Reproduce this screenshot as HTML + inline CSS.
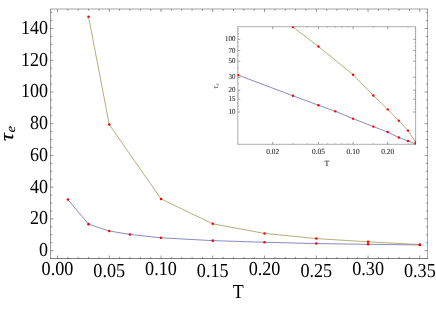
<!DOCTYPE html>
<html><head><meta charset="utf-8"><title>plot</title>
<style>
html,body{margin:0;padding:0;background:#fff;}
svg{display:block;will-change:transform;}
text{font-family:"Liberation Serif",serif;fill:#000;text-rendering:geometricPrecision;}
.big{font-size:18px;}
.sm{font-size:20px;fill:#111;stroke:#111;stroke-width:0.12px;}
</style></head><body>
<svg width="436" height="311" viewBox="0 0 436 311">
<rect width="436" height="311" fill="#fff"/>
<path d="M50.6 9.0V258.5" stroke="#000" stroke-width="1" stroke-opacity="0.42"/>
<path d="M50.1 9.0H428.1" stroke="#000" stroke-width="1" stroke-opacity="0.36"/>
<path d="M427.5 9.0V258.5" stroke="#000" stroke-width="1" stroke-opacity="0.33"/>
<path d="M50.1 258.5H428.1" stroke="#000" stroke-width="1" stroke-opacity="0.5"/>
<path d="M57.50 258.5v-3.0M57.50 9.0v3.0" stroke="#000" stroke-width="0.8" stroke-opacity="0.5"/>
<path d="M67.85 258.5v-1.7M67.85 9.0v1.7" stroke="#000" stroke-width="0.8" stroke-opacity="0.5"/>
<path d="M78.20 258.5v-1.7M78.20 9.0v1.7" stroke="#000" stroke-width="0.8" stroke-opacity="0.5"/>
<path d="M88.56 258.5v-1.7M88.56 9.0v1.7" stroke="#000" stroke-width="0.8" stroke-opacity="0.5"/>
<path d="M98.91 258.5v-1.7M98.91 9.0v1.7" stroke="#000" stroke-width="0.8" stroke-opacity="0.5"/>
<path d="M109.26 258.5v-3.0M109.26 9.0v3.0" stroke="#000" stroke-width="0.8" stroke-opacity="0.5"/>
<path d="M119.61 258.5v-1.7M119.61 9.0v1.7" stroke="#000" stroke-width="0.8" stroke-opacity="0.5"/>
<path d="M129.96 258.5v-1.7M129.96 9.0v1.7" stroke="#000" stroke-width="0.8" stroke-opacity="0.5"/>
<path d="M140.32 258.5v-1.7M140.32 9.0v1.7" stroke="#000" stroke-width="0.8" stroke-opacity="0.5"/>
<path d="M150.67 258.5v-1.7M150.67 9.0v1.7" stroke="#000" stroke-width="0.8" stroke-opacity="0.5"/>
<path d="M161.02 258.5v-3.0M161.02 9.0v3.0" stroke="#000" stroke-width="0.8" stroke-opacity="0.5"/>
<path d="M171.37 258.5v-1.7M171.37 9.0v1.7" stroke="#000" stroke-width="0.8" stroke-opacity="0.5"/>
<path d="M181.72 258.5v-1.7M181.72 9.0v1.7" stroke="#000" stroke-width="0.8" stroke-opacity="0.5"/>
<path d="M192.08 258.5v-1.7M192.08 9.0v1.7" stroke="#000" stroke-width="0.8" stroke-opacity="0.5"/>
<path d="M202.43 258.5v-1.7M202.43 9.0v1.7" stroke="#000" stroke-width="0.8" stroke-opacity="0.5"/>
<path d="M212.78 258.5v-3.0M212.78 9.0v3.0" stroke="#000" stroke-width="0.8" stroke-opacity="0.5"/>
<path d="M223.13 258.5v-1.7M223.13 9.0v1.7" stroke="#000" stroke-width="0.8" stroke-opacity="0.5"/>
<path d="M233.48 258.5v-1.7M233.48 9.0v1.7" stroke="#000" stroke-width="0.8" stroke-opacity="0.5"/>
<path d="M243.84 258.5v-1.7M243.84 9.0v1.7" stroke="#000" stroke-width="0.8" stroke-opacity="0.5"/>
<path d="M254.19 258.5v-1.7M254.19 9.0v1.7" stroke="#000" stroke-width="0.8" stroke-opacity="0.5"/>
<path d="M264.54 258.5v-3.0M264.54 9.0v3.0" stroke="#000" stroke-width="0.8" stroke-opacity="0.5"/>
<path d="M274.89 258.5v-1.7M274.89 9.0v1.7" stroke="#000" stroke-width="0.8" stroke-opacity="0.5"/>
<path d="M285.24 258.5v-1.7M285.24 9.0v1.7" stroke="#000" stroke-width="0.8" stroke-opacity="0.5"/>
<path d="M295.60 258.5v-1.7M295.60 9.0v1.7" stroke="#000" stroke-width="0.8" stroke-opacity="0.5"/>
<path d="M305.95 258.5v-1.7M305.95 9.0v1.7" stroke="#000" stroke-width="0.8" stroke-opacity="0.5"/>
<path d="M316.30 258.5v-3.0M316.30 9.0v3.0" stroke="#000" stroke-width="0.8" stroke-opacity="0.5"/>
<path d="M326.65 258.5v-1.7M326.65 9.0v1.7" stroke="#000" stroke-width="0.8" stroke-opacity="0.5"/>
<path d="M337.00 258.5v-1.7M337.00 9.0v1.7" stroke="#000" stroke-width="0.8" stroke-opacity="0.5"/>
<path d="M347.36 258.5v-1.7M347.36 9.0v1.7" stroke="#000" stroke-width="0.8" stroke-opacity="0.5"/>
<path d="M357.71 258.5v-1.7M357.71 9.0v1.7" stroke="#000" stroke-width="0.8" stroke-opacity="0.5"/>
<path d="M368.06 258.5v-3.0M368.06 9.0v3.0" stroke="#000" stroke-width="0.8" stroke-opacity="0.5"/>
<path d="M378.41 258.5v-1.7M378.41 9.0v1.7" stroke="#000" stroke-width="0.8" stroke-opacity="0.5"/>
<path d="M388.76 258.5v-1.7M388.76 9.0v1.7" stroke="#000" stroke-width="0.8" stroke-opacity="0.5"/>
<path d="M399.12 258.5v-1.7M399.12 9.0v1.7" stroke="#000" stroke-width="0.8" stroke-opacity="0.5"/>
<path d="M409.47 258.5v-1.7M409.47 9.0v1.7" stroke="#000" stroke-width="0.8" stroke-opacity="0.5"/>
<path d="M419.82 258.5v-3.0M419.82 9.0v3.0" stroke="#000" stroke-width="0.8" stroke-opacity="0.5"/>
<path d="M50.6 250.65h3.0M427.6 250.65h-3.0" stroke="#000" stroke-width="0.8" stroke-opacity="0.5"/>
<path d="M50.6 242.72h1.7M427.6 242.72h-1.7" stroke="#000" stroke-width="0.8" stroke-opacity="0.5"/>
<path d="M50.6 234.78h1.7M427.6 234.78h-1.7" stroke="#000" stroke-width="0.8" stroke-opacity="0.5"/>
<path d="M50.6 226.84h1.7M427.6 226.84h-1.7" stroke="#000" stroke-width="0.8" stroke-opacity="0.5"/>
<path d="M50.6 218.91h3.0M427.6 218.91h-3.0" stroke="#000" stroke-width="0.8" stroke-opacity="0.5"/>
<path d="M50.6 210.98h1.7M427.6 210.98h-1.7" stroke="#000" stroke-width="0.8" stroke-opacity="0.5"/>
<path d="M50.6 203.04h1.7M427.6 203.04h-1.7" stroke="#000" stroke-width="0.8" stroke-opacity="0.5"/>
<path d="M50.6 195.11h1.7M427.6 195.11h-1.7" stroke="#000" stroke-width="0.8" stroke-opacity="0.5"/>
<path d="M50.6 187.17h3.0M427.6 187.17h-3.0" stroke="#000" stroke-width="0.8" stroke-opacity="0.5"/>
<path d="M50.6 179.24h1.7M427.6 179.24h-1.7" stroke="#000" stroke-width="0.8" stroke-opacity="0.5"/>
<path d="M50.6 171.30h1.7M427.6 171.30h-1.7" stroke="#000" stroke-width="0.8" stroke-opacity="0.5"/>
<path d="M50.6 163.37h1.7M427.6 163.37h-1.7" stroke="#000" stroke-width="0.8" stroke-opacity="0.5"/>
<path d="M50.6 155.43h3.0M427.6 155.43h-3.0" stroke="#000" stroke-width="0.8" stroke-opacity="0.5"/>
<path d="M50.6 147.50h1.7M427.6 147.50h-1.7" stroke="#000" stroke-width="0.8" stroke-opacity="0.5"/>
<path d="M50.6 139.56h1.7M427.6 139.56h-1.7" stroke="#000" stroke-width="0.8" stroke-opacity="0.5"/>
<path d="M50.6 131.62h1.7M427.6 131.62h-1.7" stroke="#000" stroke-width="0.8" stroke-opacity="0.5"/>
<path d="M50.6 123.69h3.0M427.6 123.69h-3.0" stroke="#000" stroke-width="0.8" stroke-opacity="0.5"/>
<path d="M50.6 115.75h1.7M427.6 115.75h-1.7" stroke="#000" stroke-width="0.8" stroke-opacity="0.5"/>
<path d="M50.6 107.82h1.7M427.6 107.82h-1.7" stroke="#000" stroke-width="0.8" stroke-opacity="0.5"/>
<path d="M50.6 99.89h1.7M427.6 99.89h-1.7" stroke="#000" stroke-width="0.8" stroke-opacity="0.5"/>
<path d="M50.6 91.95h3.0M427.6 91.95h-3.0" stroke="#000" stroke-width="0.8" stroke-opacity="0.5"/>
<path d="M50.6 84.02h1.7M427.6 84.02h-1.7" stroke="#000" stroke-width="0.8" stroke-opacity="0.5"/>
<path d="M50.6 76.08h1.7M427.6 76.08h-1.7" stroke="#000" stroke-width="0.8" stroke-opacity="0.5"/>
<path d="M50.6 68.15h1.7M427.6 68.15h-1.7" stroke="#000" stroke-width="0.8" stroke-opacity="0.5"/>
<path d="M50.6 60.21h3.0M427.6 60.21h-3.0" stroke="#000" stroke-width="0.8" stroke-opacity="0.5"/>
<path d="M50.6 52.28h1.7M427.6 52.28h-1.7" stroke="#000" stroke-width="0.8" stroke-opacity="0.5"/>
<path d="M50.6 44.34h1.7M427.6 44.34h-1.7" stroke="#000" stroke-width="0.8" stroke-opacity="0.5"/>
<path d="M50.6 36.41h1.7M427.6 36.41h-1.7" stroke="#000" stroke-width="0.8" stroke-opacity="0.5"/>
<path d="M50.6 28.47h3.0M427.6 28.47h-3.0" stroke="#000" stroke-width="0.8" stroke-opacity="0.5"/>
<path d="M50.6 20.53h1.7M427.6 20.53h-1.7" stroke="#000" stroke-width="0.8" stroke-opacity="0.5"/>
<path d="M50.6 12.60h1.7M427.6 12.60h-1.7" stroke="#000" stroke-width="0.8" stroke-opacity="0.5"/>
<text transform="translate(57.50,274.7) scale(1.01,1.1)" text-anchor="middle" class="big">0.00</text>
<text transform="translate(109.26,276.6) scale(1.01,1.1)" text-anchor="middle" class="big">0.05</text>
<text transform="translate(161.02,274.7) scale(1.01,1.1)" text-anchor="middle" class="big">0.10</text>
<text transform="translate(212.78,276.6) scale(1.01,1.1)" text-anchor="middle" class="big">0.15</text>
<text transform="translate(264.54,274.7) scale(1.01,1.1)" text-anchor="middle" class="big">0.20</text>
<text transform="translate(316.30,276.6) scale(1.01,1.1)" text-anchor="middle" class="big">0.25</text>
<text transform="translate(368.06,274.7) scale(1.01,1.1)" text-anchor="middle" class="big">0.30</text>
<text transform="translate(419.82,276.6) scale(1.01,1.1)" text-anchor="middle" class="big">0.35</text>
<text transform="translate(48,256.05) scale(1,1.1)" text-anchor="end" class="big">0</text>
<text transform="translate(48,224.31) scale(1,1.1)" text-anchor="end" class="big">20</text>
<text transform="translate(48,192.57) scale(1,1.1)" text-anchor="end" class="big">40</text>
<text transform="translate(48,160.83) scale(1,1.1)" text-anchor="end" class="big">60</text>
<text transform="translate(48,129.09) scale(1,1.1)" text-anchor="end" class="big">80</text>
<text transform="translate(48,97.35) scale(1,1.1)" text-anchor="end" class="big">100</text>
<text transform="translate(48,65.61) scale(1,1.1)" text-anchor="end" class="big">120</text>
<text transform="translate(48,33.87) scale(1,1.1)" text-anchor="end" class="big">140</text>
<text transform="translate(238.3,297.6) scale(1,1.1)" text-anchor="middle" class="big">T</text>
<text transform="translate(13.3,141.0) rotate(-90) scale(1.12,1)" class="big" style="font-style:italic;font-size:19.5px;stroke:#000;stroke-width:0.2px">τ<tspan dy="1.6" dx="0.6" style="font-size:13px;stroke-width:0.1px">e</tspan></text>
<polyline points="67.85,199.55 88.56,224.15 109.26,230.97 129.96,234.46 161.02,237.80 212.78,240.65 264.54,242.24 316.30,243.59 368.06,244.30 419.82,244.94" fill="none" stroke="#3d3d99" stroke-width="0.6"/>
<polyline points="88.56,16.73 109.26,124.48 161.02,198.91 212.78,223.83 264.54,233.43 316.30,238.59 368.06,241.84 419.82,244.54" fill="none" stroke="#998b3d" stroke-width="0.7"/>
<circle cx="67.85" cy="199.55" r="1.28" fill="#ff0000"/>
<circle cx="88.56" cy="224.15" r="1.28" fill="#ff0000"/>
<circle cx="109.26" cy="230.97" r="1.28" fill="#ff0000"/>
<circle cx="129.96" cy="234.46" r="1.28" fill="#ff0000"/>
<circle cx="161.02" cy="237.80" r="1.28" fill="#ff0000"/>
<circle cx="212.78" cy="240.65" r="1.28" fill="#ff0000"/>
<circle cx="264.54" cy="242.24" r="1.28" fill="#ff0000"/>
<circle cx="316.30" cy="243.59" r="1.28" fill="#ff0000"/>
<circle cx="368.06" cy="244.30" r="1.28" fill="#ff0000"/>
<circle cx="419.82" cy="244.94" r="1.28" fill="#ff0000"/>
<circle cx="88.56" cy="16.73" r="1.28" fill="#ff0000"/>
<circle cx="109.26" cy="124.48" r="1.28" fill="#ff0000"/>
<circle cx="161.02" cy="198.91" r="1.28" fill="#ff0000"/>
<circle cx="212.78" cy="223.83" r="1.28" fill="#ff0000"/>
<circle cx="264.54" cy="233.43" r="1.28" fill="#ff0000"/>
<circle cx="316.30" cy="238.59" r="1.28" fill="#ff0000"/>
<circle cx="368.06" cy="241.84" r="1.28" fill="#ff0000"/>
<circle cx="419.82" cy="244.54" r="1.28" fill="#ff0000"/>
<rect x="237.8" y="26.7" width="177.80" height="117.60" fill="none" stroke="#000" stroke-width="1" stroke-opacity="0.32"/>
<path d="M272.72 144.3v-2.5M272.72 26.7v2.5" stroke="#000" stroke-width="0.8" stroke-opacity="0.45"/>
<path d="M318.48 144.3v-2.5M318.48 26.7v2.5" stroke="#000" stroke-width="0.8" stroke-opacity="0.45"/>
<path d="M353.10 144.3v-2.5M353.10 26.7v2.5" stroke="#000" stroke-width="0.8" stroke-opacity="0.45"/>
<path d="M387.72 144.3v-2.5M387.72 26.7v2.5" stroke="#000" stroke-width="0.8" stroke-opacity="0.45"/>
<path d="M292.97 144.3v-1.1M292.97 26.7v1.1" stroke="#000" stroke-width="0.8" stroke-opacity="0.3"/>
<path d="M307.34 144.3v-1.1M307.34 26.7v1.1" stroke="#000" stroke-width="0.8" stroke-opacity="0.3"/>
<path d="M327.59 144.3v-1.1M327.59 26.7v1.1" stroke="#000" stroke-width="0.8" stroke-opacity="0.3"/>
<path d="M335.29 144.3v-1.1M335.29 26.7v1.1" stroke="#000" stroke-width="0.8" stroke-opacity="0.3"/>
<path d="M341.96 144.3v-1.1M341.96 26.7v1.1" stroke="#000" stroke-width="0.8" stroke-opacity="0.3"/>
<path d="M347.84 144.3v-1.1M347.84 26.7v1.1" stroke="#000" stroke-width="0.8" stroke-opacity="0.3"/>
<path d="M373.35 144.3v-1.1M373.35 26.7v1.1" stroke="#000" stroke-width="0.8" stroke-opacity="0.3"/>
<path d="M407.97 144.3v-1.1M407.97 26.7v1.1" stroke="#000" stroke-width="0.8" stroke-opacity="0.3"/>
<path d="M237.8 112.00h2.5M415.6 112.00h-2.5" stroke="#000" stroke-width="0.8" stroke-opacity="0.45"/>
<path d="M237.8 99.20h2.5M415.6 99.20h-2.5" stroke="#000" stroke-width="0.8" stroke-opacity="0.45"/>
<path d="M237.8 90.12h2.5M415.6 90.12h-2.5" stroke="#000" stroke-width="0.8" stroke-opacity="0.45"/>
<path d="M237.8 77.31h2.5M415.6 77.31h-2.5" stroke="#000" stroke-width="0.8" stroke-opacity="0.45"/>
<path d="M237.8 61.18h2.5M415.6 61.18h-2.5" stroke="#000" stroke-width="0.8" stroke-opacity="0.45"/>
<path d="M237.8 50.56h2.5M415.6 50.56h-2.5" stroke="#000" stroke-width="0.8" stroke-opacity="0.45"/>
<path d="M237.8 39.30h2.5M415.6 39.30h-2.5" stroke="#000" stroke-width="0.8" stroke-opacity="0.45"/>
<path d="M237.8 108.99h1.1M415.6 108.99h-1.1" stroke="#000" stroke-width="0.8" stroke-opacity="0.3"/>
<path d="M237.8 106.24h1.1M415.6 106.24h-1.1" stroke="#000" stroke-width="0.8" stroke-opacity="0.3"/>
<path d="M237.8 103.72h1.1M415.6 103.72h-1.1" stroke="#000" stroke-width="0.8" stroke-opacity="0.3"/>
<path d="M237.8 101.38h1.1M415.6 101.38h-1.1" stroke="#000" stroke-width="0.8" stroke-opacity="0.3"/>
<path d="M237.8 97.16h1.1M415.6 97.16h-1.1" stroke="#000" stroke-width="0.8" stroke-opacity="0.3"/>
<path d="M237.8 95.25h1.1M415.6 95.25h-1.1" stroke="#000" stroke-width="0.8" stroke-opacity="0.3"/>
<path d="M237.8 93.44h1.1M415.6 93.44h-1.1" stroke="#000" stroke-width="0.8" stroke-opacity="0.3"/>
<path d="M237.8 91.73h1.1M415.6 91.73h-1.1" stroke="#000" stroke-width="0.8" stroke-opacity="0.3"/>
<path d="M237.8 83.07h1.1M415.6 83.07h-1.1" stroke="#000" stroke-width="0.8" stroke-opacity="0.3"/>
<path d="M237.8 68.23h1.1M415.6 68.23h-1.1" stroke="#000" stroke-width="0.8" stroke-opacity="0.3"/>
<path d="M237.8 55.43h1.1M415.6 55.43h-1.1" stroke="#000" stroke-width="0.8" stroke-opacity="0.3"/>
<path d="M237.8 46.35h1.1M415.6 46.35h-1.1" stroke="#000" stroke-width="0.8" stroke-opacity="0.3"/>
<path d="M237.8 42.63h1.1M415.6 42.63h-1.1" stroke="#000" stroke-width="0.8" stroke-opacity="0.3"/>
<path d="M237.8 36.29h1.1M415.6 36.29h-1.1" stroke="#000" stroke-width="0.8" stroke-opacity="0.3"/>
<path d="M237.8 33.54h1.1M415.6 33.54h-1.1" stroke="#000" stroke-width="0.8" stroke-opacity="0.3"/>
<path d="M237.8 31.02h1.1M415.6 31.02h-1.1" stroke="#000" stroke-width="0.8" stroke-opacity="0.3"/>
<path d="M237.8 28.68h1.1M415.6 28.68h-1.1" stroke="#000" stroke-width="0.8" stroke-opacity="0.3"/>
<text transform="translate(272.72,153.6) scale(0.371,0.392)" text-anchor="middle" class="sm">0.02</text>
<text transform="translate(318.48,153.6) scale(0.371,0.392)" text-anchor="middle" class="sm">0.05</text>
<text transform="translate(353.10,153.6) scale(0.371,0.392)" text-anchor="middle" class="sm">0.10</text>
<text transform="translate(387.72,153.6) scale(0.371,0.392)" text-anchor="middle" class="sm">0.20</text>
<text transform="translate(235.5,114.05) scale(0.35,0.385)" text-anchor="end" class="sm">10</text>
<text transform="translate(235.5,101.25) scale(0.35,0.385)" text-anchor="end" class="sm">15</text>
<text transform="translate(235.5,92.17) scale(0.35,0.385)" text-anchor="end" class="sm">20</text>
<text transform="translate(235.5,79.36) scale(0.35,0.385)" text-anchor="end" class="sm">30</text>
<text transform="translate(235.5,63.23) scale(0.35,0.385)" text-anchor="end" class="sm">50</text>
<text transform="translate(235.5,52.61) scale(0.35,0.385)" text-anchor="end" class="sm">70</text>
<text transform="translate(235.5,41.35) scale(0.35,0.385)" text-anchor="end" class="sm">100</text>
<text transform="translate(327,165.7) scale(0.392)" text-anchor="middle" class="sm">T</text>
<text transform="translate(218.3,88.7) rotate(-90) scale(0.40249999999999997)" class="sm" style="font-style:italic;stroke:none;fill:#333">τ<tspan dy="2" dx="0.5" style="font-size:13px">e</tspan></text>
<clipPath id="ic"><rect x="237.5" y="26.4" width="178.4" height="118.2"/></clipPath>
<g clip-path="url(#ic)">
<polyline points="238.10,75.08 292.97,95.81 318.48,105.21 335.29,111.37 353.10,118.65 373.35,126.59 387.72,132.05 398.86,137.56 407.97,140.93 415.67,144.26" fill="none" stroke="#3d3d99" stroke-width="0.6"/>
<polyline points="292.97,27.05 318.48,46.54 353.10,74.69 373.35,95.43 387.72,109.42 398.86,120.66 407.97,130.59 415.67,142.14" fill="none" stroke="#998b3d" stroke-width="0.7"/>
<circle cx="238.10" cy="75.08" r="1.2" fill="#ff0000"/>
<circle cx="292.97" cy="95.81" r="1.2" fill="#ff0000"/>
<circle cx="318.48" cy="105.21" r="1.2" fill="#ff0000"/>
<circle cx="335.29" cy="111.37" r="1.2" fill="#ff0000"/>
<circle cx="353.10" cy="118.65" r="1.2" fill="#ff0000"/>
<circle cx="373.35" cy="126.59" r="1.2" fill="#ff0000"/>
<circle cx="387.72" cy="132.05" r="1.2" fill="#ff0000"/>
<circle cx="398.86" cy="137.56" r="1.2" fill="#ff0000"/>
<circle cx="407.97" cy="140.93" r="1.2" fill="#ff0000"/>
<circle cx="415.67" cy="144.26" r="1.2" fill="#ff0000"/>
<circle cx="292.97" cy="27.05" r="1.2" fill="#ff0000"/>
<circle cx="318.48" cy="46.54" r="1.2" fill="#ff0000"/>
<circle cx="353.10" cy="74.69" r="1.2" fill="#ff0000"/>
<circle cx="373.35" cy="95.43" r="1.2" fill="#ff0000"/>
<circle cx="387.72" cy="109.42" r="1.2" fill="#ff0000"/>
<circle cx="398.86" cy="120.66" r="1.2" fill="#ff0000"/>
<circle cx="407.97" cy="130.59" r="1.2" fill="#ff0000"/>
<circle cx="415.67" cy="142.14" r="1.2" fill="#ff0000"/>
</g>
</svg>
</body></html>
